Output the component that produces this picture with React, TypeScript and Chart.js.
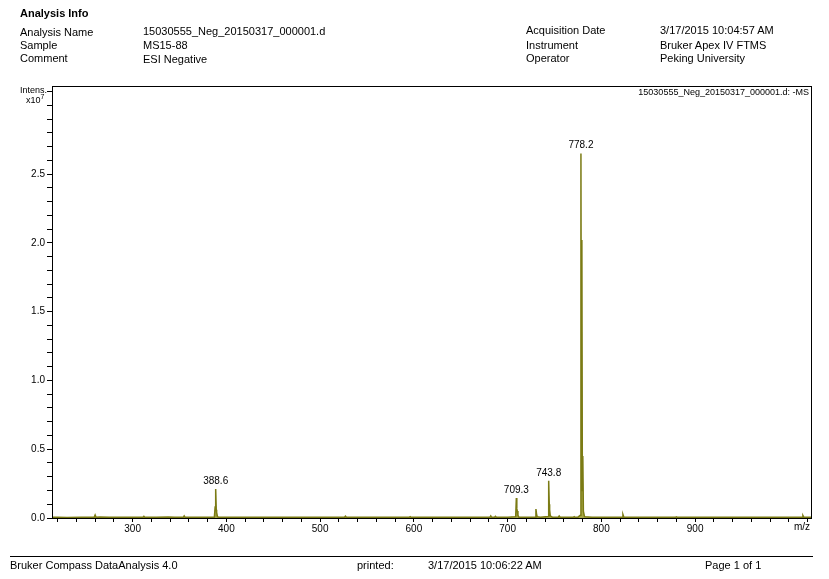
import React, { useEffect, useRef } from "react";
import { Chart, registerables } from "chart.js";

Chart.register(...registerables);

// m/z values and intensities (x10^7)
const mz: number[] = [
  214, 220, 230, 245, 259, 260, 261, 265, 275, 290, 300, 311, 312, 313, 325, 338, 345, 354, 355, 356,
  360, 372, 380, 387.2, 388, 388.6, 389.2, 389.6, 390.5, 392, 400, 420, 440, 460, 480, 500, 526, 527,
  528, 540, 560, 575, 595, 596, 597, 610, 630, 650, 665, 681, 682, 683, 686, 687, 688, 689, 692, 700,
  708.6, 709.3, 709.8, 710.3, 711, 712, 720, 729.5, 730.2, 730.8, 731.5, 735, 743.2, 743.8, 744.4,
  744.8, 745.5, 748, 754, 755, 756, 765, 770, 771, 772, 775, 777.6, 778.2, 778.7, 779.2, 779.7, 780.2,
  780.8, 782, 790, 800, 812, 822, 823, 824, 840, 860, 879, 880, 881, 900, 920, 940, 960, 980, 1000,
  1014, 1015, 1016, 1023.6,
];
const intensity: number[] = [
  0.005, 0.006, 0.004, 0.005, 0.005, 0.022, 0.005, 0.007, 0.005, 0.006, 0.005, 0.005, 0.012, 0.005,
  0.005, 0.007, 0.005, 0.005, 0.015, 0.005, 0.005, 0.006, 0.005, 0.005, 0.08, 0.21, 0.06, 0.04, 0.01,
  0.005, 0.006, 0.005, 0.006, 0.005, 0.006, 0.005, 0.005, 0.013, 0.005, 0.005, 0.005, 0.006, 0.005,
  0.01, 0.005, 0.005, 0.005, 0.005, 0.006, 0.005, 0.015, 0.005, 0.005, 0.012, 0.005, 0.005, 0.005,
  0.006, 0.01, 0.146, 0.07, 0.05, 0.02, 0.006, 0.005, 0.006, 0.065, 0.03, 0.01, 0.005, 0.01, 0.27,
  0.1, 0.06, 0.015, 0.005, 0.005, 0.014, 0.005, 0.006, 0.005, 0.01, 0.005, 0.006, 0.02, 2.65, 0.3,
  2.02, 0.2, 0.45, 0.05, 0.01, 0.005, 0.005, 0.006, 0.005, 0.025, 0.005, 0.005, 0.006, 0.005, 0.009,
  0.005, 0.005, 0.005, 0.005, 0.006, 0.005, 0.005, 0.005, 0.018, 0.005, 0.005,
];

const peakMz: number[] = [388.6, 709.3, 743.8, 778.2];
const peakLabels: string[] = ["388.6", "709.3", "743.8", "778.2"];

const xTickValues: number[] = [
  220, 240, 260, 280, 300, 320, 340, 360, 380, 400, 420, 440, 460, 480, 500, 520, 540, 560, 580, 600,
  620, 640, 660, 680, 700, 720, 740, 760, 780, 800, 820, 840, 860, 880, 900, 920, 940, 960, 980, 1000,
  1020,
];
const xTickLabels: number[] = [300, 400, 500, 600, 700, 800, 900];

const yTickValues: number[] = [
  0, 0.1, 0.2, 0.3, 0.4, 0.5, 0.6, 0.7, 0.8, 0.9, 1.0, 1.1, 1.2, 1.3, 1.4, 1.5, 1.6, 1.7, 1.8, 1.9,
  2.0, 2.1, 2.2, 2.3, 2.4, 2.5, 2.6, 2.7, 2.8, 2.9, 3.0, 3.1,
];
const yTickLabels: string[] = ["0.0", "0.5", "1.0", "1.5", "2.0", "2.5"];

const FONT = "'Liberation Sans', Arial, sans-serif";

const overlayPlugin = {
  id: "overlay",
  afterDraw(chart: any) {
    const { ctx, chartArea } = chart;
    const xs = chart.scales.x;
    const ys = chart.scales.y;
    ctx.save();
    ctx.strokeStyle = "#000";
    ctx.lineWidth = 1;
    ctx.strokeRect(
      Math.round(chartArea.left) + 0.5,
      Math.round(chartArea.top) + 0.5,
      Math.round(chartArea.right - chartArea.left),
      Math.round(chartArea.bottom - chartArea.top)
    );
    ctx.fillStyle = "#000";
    ctx.font = `10px ${FONT}`;
    ctx.textAlign = "center";
    ctx.textBaseline = "bottom";
    peakMz.forEach((m, i) => {
      const idx = mz.indexOf(m);
      const v = idx >= 0 ? intensity[idx] : 0;
      ctx.fillText(peakLabels[i], xs.getPixelForValue(m), ys.getPixelForValue(v) - 3);
    });
    ctx.font = `9px ${FONT}`;
    ctx.textAlign = "right";
    ctx.textBaseline = "top";
    ctx.fillText("15030555_Neg_20150317_000001.d: -MS", chartArea.right - 2, chartArea.top + 2);
    ctx.font = `10px ${FONT}`;
    ctx.fillText("m/z", chartArea.right - 1, chartArea.bottom + 4);
    ctx.restore();
  },
};

const txt = (s: string, x: number, y: number, extra: any = {}) => (
  <div
    style={{
      position: "absolute",
      left: x,
      top: y,
      fontFamily: FONT,
      fontSize: 11,
      lineHeight: "13px",
      whiteSpace: "nowrap",
      color: "#000",
      ...extra,
    }}
  >
    {s}
  </div>
);

export default function App() {
  const ref = useRef<HTMLCanvasElement>(null);
  useEffect(() => {
    if (!ref.current) return;
    const chart = new Chart(ref.current, {
      type: "line",
      data: {
        datasets: [
          {
            data: mz.map((m, i) => ({ x: m, y: intensity[i] })),
            borderColor: "#7b7b14",
            backgroundColor: "rgba(150,150,40,0.85)",
            borderWidth: 1.5,
            pointRadius: 0,
            fill: "origin",
            tension: 0,
          },
        ],
      },
      plugins: [overlayPlugin],
      options: {
        animation: false,
        responsive: false,
        events: [],
        layout: { padding: { left: 0, top: 86, right: 18, bottom: 41 } },
        plugins: { legend: { display: false }, tooltip: { enabled: false } },
        scales: {
          x: {
            type: "linear",
            min: 214,
            max: 1023.6,
            afterBuildTicks: (scale: any) => {
              scale.ticks = xTickValues.map((v) => ({ value: v }));
            },
            afterFit: (scale: any) => {
              scale.height = 20;
            },
            ticks: {
              autoSkip: false,
              maxRotation: 0,
              padding: 1,
              color: "#000",
              font: { family: FONT, size: 10 },
              callback: (v: any) => (xTickLabels.includes(Number(v)) ? String(v) : ""),
            },
            grid: { drawOnChartArea: false, drawTicks: true, tickLength: 4, color: "#000" },
            border: { display: true, color: "#000" },
          },
          y: {
            type: "linear",
            min: 0,
            max: 3.14,
            afterBuildTicks: (scale: any) => {
              scale.ticks = yTickValues.map((v) => ({ value: v }));
            },
            afterFit: (scale: any) => {
              scale.width = 52;
            },
            ticks: {
              autoSkip: false,
              padding: 2,
              color: "#000",
              font: { family: FONT, size: 10 },
              callback: (v: any) => {
                const n = Number(v);
                const s = n.toFixed(1);
                return Math.abs(n * 2 - Math.round(n * 2)) < 1e-6 && yTickLabels.includes(s) ? s : "";
              },
            },
            grid: { drawOnChartArea: false, drawTicks: true, tickLength: 5, color: "#000" },
            border: { display: true, color: "#000" },
          },
        },
      },
    });
    return () => chart.destroy();
  }, []);

  return (
    <div style={{ position: "absolute", left: 0, top: 0, width: 829, height: 579, background: "#fff" }}>
      <canvas ref={ref} width={829} height={579} style={{ position: "absolute", left: 0, top: 0 }} />
      {txt("Analysis Info", 20, 7, { fontWeight: "bold" })}
      {txt("Analysis Name", 20, 26)}
      {txt("Sample", 20, 39)}
      {txt("Comment", 20, 52)}
      {txt("15030555_Neg_20150317_000001.d", 143, 25)}
      {txt("MS15-88", 143, 39)}
      {txt("ESI Negative", 143, 53)}
      {txt("Acquisition Date", 526, 24)}
      {txt("Instrument", 526, 39)}
      {txt("Operator", 526, 52)}
      {txt("3/17/2015 10:04:57 AM", 660, 24)}
      {txt("Bruker Apex IV FTMS", 660, 39)}
      {txt("Peking University", 660, 52)}
      {txt("Intens.", 20, 85, { fontSize: 9, lineHeight: "10px" })}
      <div
        style={{
          position: "absolute",
          left: 26,
          top: 95,
          fontFamily: FONT,
          fontSize: 9,
          lineHeight: "10px",
          whiteSpace: "nowrap",
        }}
      >
        x10<sup style={{ fontSize: 7, verticalAlign: "top", position: "relative", top: -3 }}>7</sup>
      </div>
      <div style={{ position: "absolute", left: 10, top: 556, width: 803, height: 1, background: "#000" }} />
      {txt("Bruker Compass DataAnalysis 4.0", 10, 559)}
      {txt("printed:", 357, 559)}
      {txt("3/17/2015 10:06:22 AM", 428, 559)}
      {txt("Page 1 of 1", 705, 559)}
    </div>
  );
}
